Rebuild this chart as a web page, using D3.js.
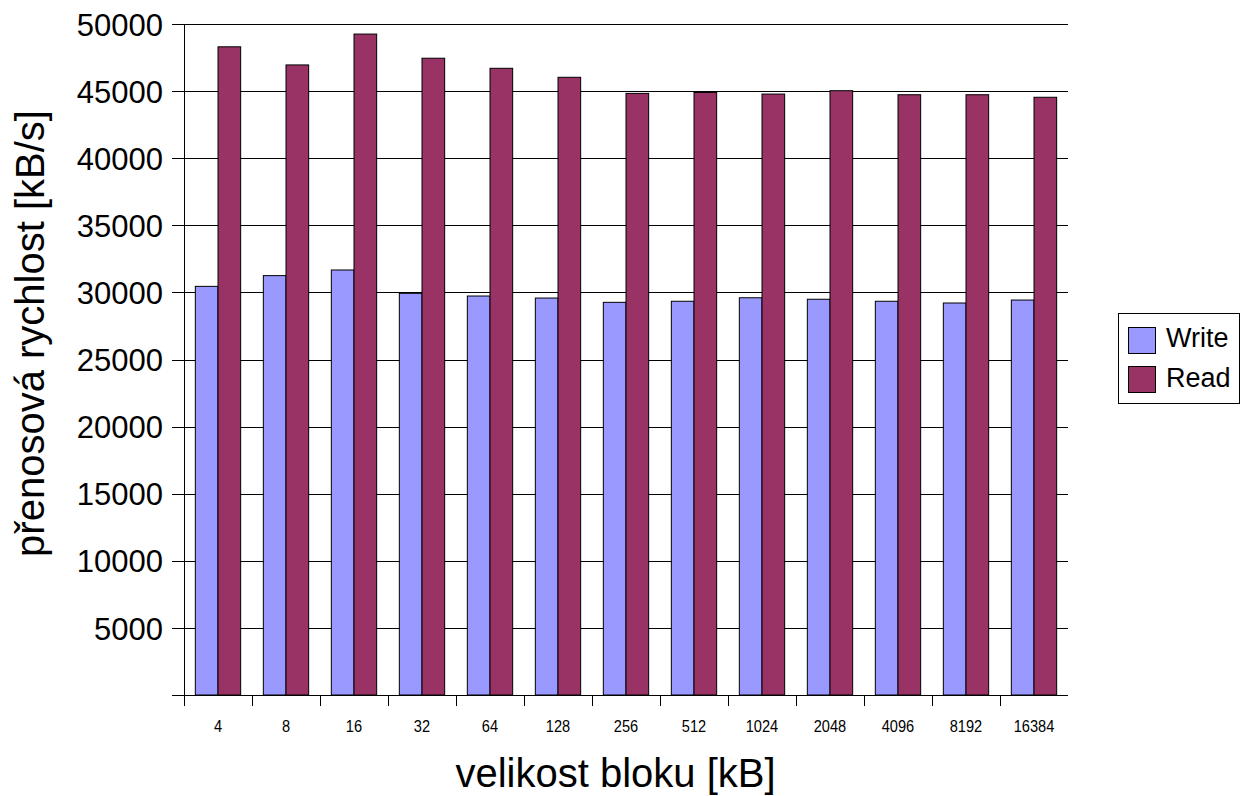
<!DOCTYPE html>
<html><head><meta charset="utf-8">
<script src="https://cdn.jsdelivr.net/npm/d3@7"></script>
<style>body{margin:0;background:#fff}svg{display:block;font-family:"Liberation Sans",Arial,sans-serif}</style>
</head><body><svg id="c" width="1241" height="796"></svg>
<script>
const categories = ["4","8","16","32","64","128","256","512","1024","2048","4096","8192","16384"];
const writeValues = [30450,31250,31670,29930,29730,29580,29260,29340,29600,29490,29340,29210,29430];
const readValues = [48300,46950,49250,47450,46700,46030,44830,44900,44780,45030,44730,44730,44540];
const seriesNames = ["Write","Read"];
const seriesColors = ["#9999FF","#993366"];
const yTicks = [5000,10000,15000,20000,25000,30000,35000,40000,45000,50000];

const svg = d3.select("#c");
const L=184, R=1068, T=24, B=695;
const x = d3.scaleBand().domain(categories).range([L,R]).padding(0);
const y = d3.scaleLinear().domain([0,50000]).range([B,T]);
const sub = d3.scaleBand().domain(seriesNames).range([0,x.bandwidth()]).paddingInner(0).paddingOuter(0.5);

// gridlines
svg.append("g").selectAll("line").data(yTicks).join("line")
  .attr("x1",L-12).attr("x2",R).attr("y1",d=>Math.round(y(d))+0.5).attr("y2",d=>Math.round(y(d))+0.5)
  .attr("stroke","#000").attr("stroke-width",1);

const data = [writeValues, readValues];
seriesNames.forEach((s,si)=>{
  svg.append("g").selectAll("rect").data(categories).join("rect")
    .attr("x",(c)=>x(c)+sub(s))
    .attr("width",sub.bandwidth())
    .attr("y",(c,i)=>y(data[si][i]))
    .attr("height",(c,i)=>B-y(data[si][i]))
    .attr("fill",seriesColors[si]).attr("stroke","#000").attr("stroke-width",1);
});

// y axis
const yAxis = d3.axisLeft(y).tickValues(yTicks).tickSize(0).tickPadding(21).tickFormat(d3.format("d"));
const ya = svg.append("g").attr("transform",`translate(${L},0)`).call(yAxis);
ya.select(".domain").remove();
ya.selectAll("text").attr("font-size",31).attr("fill","#000").attr("dy","0.36em").attr("font-family","Liberation Sans, Arial, sans-serif");
svg.append("line").attr("x1",L+0.5).attr("x2",L+0.5).attr("y1",T).attr("y2",B+11).attr("stroke","#000");

// x axis
svg.append("line").attr("x1",L-12).attr("x2",R).attr("y1",B+0.5).attr("y2",B+0.5).attr("stroke","#000");
const xa = svg.append("g").attr("transform",`translate(0,${B})`).call(d3.axisBottom(x).tickSize(0).tickPadding(0));
xa.select(".domain").remove();
xa.selectAll("text").attr("y",37).attr("dy",null).attr("font-size",17).attr("fill","#000")
  .attr("transform","scale(0.86,1)")
  .attr("font-family","Liberation Sans, Arial, sans-serif");
const edges = categories.map(c=>x(c));
svg.append("g").selectAll("line").data(edges).join("line")
  .attr("x1",d=>Math.round(d)+0.5).attr("x2",d=>Math.round(d)+0.5).attr("y1",B).attr("y2",B+11).attr("stroke","#000");

// titles
svg.append("text").attr("x",615.5).attr("y",787).attr("text-anchor","middle").attr("font-size",40).text("velikost bloku [kB]");
svg.append("text").attr("transform",`translate(43.5,333.5) rotate(-90)`).attr("text-anchor","middle").attr("font-size",40).text("přenosová rychlost [kB/s]");

// legend
const lg = svg.append("g");
lg.append("rect").attr("x",1118.5).attr("y",313.5).attr("width",121).attr("height",90).attr("fill","#fff").attr("stroke","#000");
seriesNames.forEach((s,i)=>{
  lg.append("rect").attr("x",1128.5).attr("y",327.5+i*39).attr("width",27).attr("height",26).attr("fill",seriesColors[i]).attr("stroke","#000");
  lg.append("text").attr("x",1166).attr("y",347+i*40).attr("font-size",27).text(s);
});
</script></body></html>
